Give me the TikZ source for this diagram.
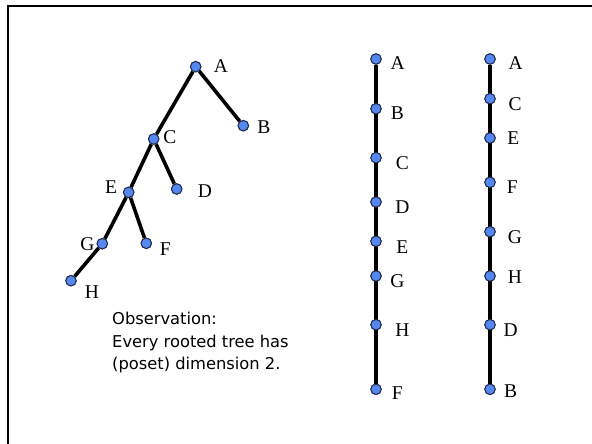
\documentclass[tikz,border=0pt]{standalone}
\usepackage{fontspec}
\setmainfont{Liberation Serif}
\newfontfamily\obsfont{DejaVu Sans}
\usetikzlibrary{positioning}
\definecolor{dotblue}{RGB}{85, 135, 240}
\definecolor{dotrim}{RGB}{30, 40, 70}

\begin{document}
\begin{tikzpicture}[
  x=1pt, y=-1pt,
  vtx/.style={circle, draw=dotrim, fill=dotblue, line width=0.9pt, inner sep=0pt, minimum size=10.5pt},
  lbl/.style={inner sep=0pt, font=\fontsize{19.5}{22}\selectfont},
  edge/.style={line width=3.6pt, black}
]
\useasboundingbox (0,0) rectangle (592,444);
% Frame
\draw[line width=2.4pt] (7.7,444) -- (7.7,6.3) -- (592,6.3);

% Tree
\node[vtx] (tA) at (195.7,66.7) {};
\node[vtx] (tB) at (243.3,125.7) {};
\node[vtx] (tC) at (153.7,139) {};
\node[vtx] (tD) at (176.7,189) {};
\node[vtx] (tE) at (128.7,192.3) {};
\node[vtx] (tF) at (146.3,243.3) {};
\node[vtx] (tG) at (102.3,243.7) {};
\node[vtx] (tH) at (71,280.7) {};

\draw[edge] (tA) -- (tB);
\draw[edge] (tA) -- (tC);
\draw[edge] (tC) -- (tD);
\draw[edge] (tC) -- (tE);
\draw[edge] (tE) -- (tF);
\draw[edge] (tE) -- (tG);
\draw[edge] (tG) -- (tH);
\foreach \n in {tA,tB,tC,tD,tE,tF,tG,tH}
  \node[vtx] at (\n) {};

\node[lbl] (ltA) at (221,66) {A};
\node[lbl] (ltB) at (264,127.3) {B};
\node[lbl] (ltC) at (170,136.7) {C};
\node[lbl] (ltD) at (205,190.7) {D};
\node[lbl] (ltE) at (111,186.7) {E};
\node[lbl] (ltF) at (165.3,249) {F};
\node[lbl] (ltG) at (87.3,244.3) {G};
\node[lbl] (ltH) at (92,291.7) {H};

% Observation
\node[anchor=west, align=left, inner sep=0pt, font=\obsfont\fontsize{16.3}{22.5}\selectfont] (obs) at (112,343)
  {Observation:\\Every rooted tree has\\(poset) dimension 2.};

% Left chain: A B C D E G H F
\node[vtx] (lA) at (376,59) {};
\node[vtx] (lB) at (376,108.7) {};
\node[vtx] (lC) at (376,157.7) {};
\node[vtx] (lD) at (376,202) {};
\node[vtx] (lE) at (376,241.3) {};
\node[vtx] (lG) at (376,276) {};
\node[vtx] (lH) at (376,324.7) {};
\node[vtx] (lF) at (376,389.3) {};
\draw[edge] (lA) -- (lF);
\foreach \n in {lA,lB,lC,lD,lE,lG,lH,lF}
  \node[vtx] at (\n) {};

\node[lbl] (llA) at (397.7,63.3) {A};
\node[lbl] (llB) at (397.3,113.3) {B};
\node[lbl] (llC) at (402.3,162.7) {C};
\node[lbl] (llD) at (402.3,206.7) {D};
\node[lbl] (llE) at (402.3,247.3) {E};
\node[lbl] (llG) at (397.3,280.7) {G};
\node[lbl] (llH) at (402.3,330) {H};
\node[lbl] (llF) at (397.3,393.3) {F};

% Right chain: A C E F G H D B
\node[vtx] (rA) at (490,59) {};
\node[vtx] (rC) at (490,98.7) {};
\node[vtx] (rE) at (490,138) {};
\node[vtx] (rF) at (490,182.3) {};
\node[vtx] (rG) at (490,231.7) {};
\node[vtx] (rH) at (490,276) {};
\node[vtx] (rD) at (490,324.7) {};
\node[vtx] (rB) at (490,389.3) {};
\draw[edge] (rA) -- (rB);
\foreach \n in {rA,rC,rE,rF,rG,rH,rD,rB}
  \node[vtx] at (\n) {};

\node[lbl] (lrA) at (515.7,63.3) {A};
\node[lbl] (lrC) at (515,104.3) {C};
\node[lbl] (lrE) at (513.3,138.3) {E};
\node[lbl] (lrF) at (512.3,186.7) {F};
\node[lbl] (lrG) at (515,237.3) {G};
\node[lbl] (lrH) at (515,276.7) {H};
\node[lbl] (lrD) at (510.7,330) {D};
\node[lbl] (lrB) at (510.7,391) {B};
\end{tikzpicture}
\end{document}
